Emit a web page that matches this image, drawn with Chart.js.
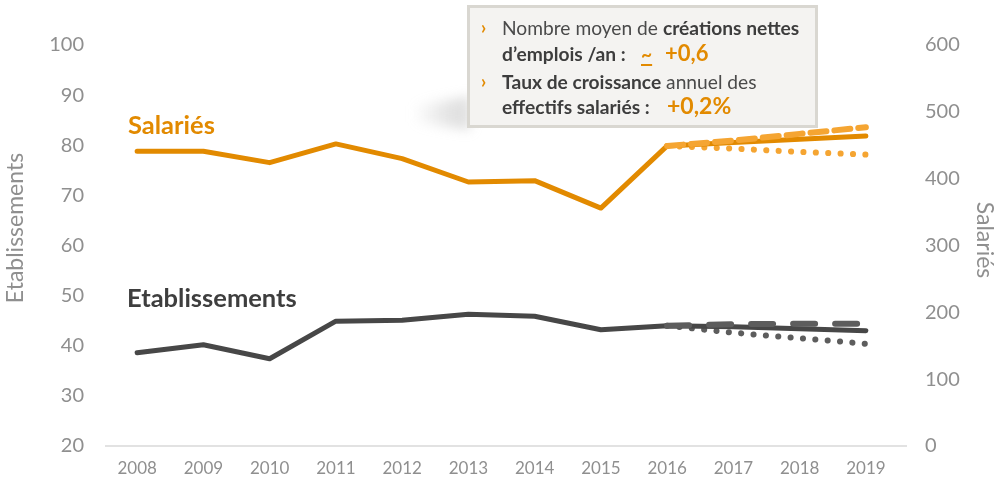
<!DOCTYPE html>
<html>
<head>
<meta charset="utf-8">
<script src="https://cdn.jsdelivr.net/npm/chart.js@4/dist/chart.umd.min.js"></script>
<style>
  html, body { margin: 0; padding: 0; background: #ffffff; }
</style>
</head>
<body>
<canvas id="c" width="996" height="479"></canvas>
<script>
// Years on the horizontal axis
const years = ['2008', '2009', '2010', '2011', '2012', '2013', '2014', '2015', '2016', '2017', '2018', '2019'];

// Salariés (right axis): observed + central projection, then high / low scenarios
const salaries      = [441, 441, 424, 452, 430, 395, 397, 356, 449, 454, 459, 464];
const salariesHaut  = [null, null, null, null, null, null, null, null, 449, 457, 467, 477];
const salariesBas   = [null, null, null, null, null, null, null, null, 449, 445, 440, 436];

// Etablissements (left axis)
const etab      = [38.6, 40.2, 37.4, 44.9, 45.1, 46.3, 45.9, 43.2, 44.0, 43.8, 43.4, 43.0];
const etabHaut  = [null, null, null, null, null, null, null, null, 44.0, 44.3, 44.4, 44.4];
const etabBas   = [null, null, null, null, null, null, null, null, 44.0, 42.6, 41.5, 40.4];

// Axis ranges
const leftRange  = { min: 20, max: 100, step: 10 };
const rightRange = { min: 0, max: 600, step: 100 };

const ORANGE = '#E28A00';
const ORANGE_LIGHT = '#F5A532';
const DARK = '#474747';
const DARK_LIGHT = '#5d5d5d';
const TICK_GREY = '#8f8f8f';
const FONT = 'Lato, "Open Sans", sans-serif';

function lineSet(label, data, axis, color, width, dash, order) {
  return {
    label, data, yAxisID: axis,
    borderColor: color, backgroundColor: color,
    borderWidth: width, borderDash: dash || [],
    borderCapStyle: 'round', borderJoinStyle: 'round',
    pointRadius: 0, pointHoverRadius: 0,
    tension: 0, spanGaps: false, fill: false, order
  };
}

// Mixed-style text run helper
function drawRuns(ctx, x, y, runs) {
  let cx = x;
  for (const r of runs) {
    if (r.x !== undefined) cx = r.x;
    ctx.font = r.font;
    ctx.fillStyle = r.color;
    ctx.fillText(r.t, cx, y);
    const w = ctx.measureText(r.t).width;
    if (r.underline) {
      ctx.fillRect(cx, y + 3, w, 2);
    }
    cx += w;
  }
}

// fixed side width for a vertical axis, without extra vertical label padding
function fixedSide(width) {
  return function (s) {
    s.width = width;
    s.paddingTop = 0;
    s.paddingBottom = 0;
  };
}

const decor = {
  id: 'decor',
  afterDatasetsDraw(chart) {
    const ctx = chart.ctx;
    const area = chart.chartArea;
    const yL = chart.scales.y;
    ctx.save();

    // horizontal base line
    const by = yL.getPixelForValue(leftRange.min);
    ctx.strokeStyle = '#e2e2e2';
    ctx.lineWidth = 2;
    ctx.beginPath();
    ctx.moveTo(area.left + 1, by);
    ctx.lineTo(area.right + 8, by);
    ctx.stroke();

    // axis titles
    ctx.fillStyle = TICK_GREY;
    ctx.font = '23px ' + FONT;
    ctx.textAlign = 'center';
    ctx.textBaseline = 'middle';
    ctx.save();
    ctx.translate(16, 228);
    ctx.rotate(-Math.PI / 2);
    ctx.fillText('Etablissements', 0, 0);
    ctx.restore();
    ctx.save();
    ctx.translate(984, 240);
    ctx.rotate(Math.PI / 2);
    ctx.fillText('Salariés', 0, 0);
    ctx.restore();

    // series names
    ctx.textAlign = 'left';
    ctx.textBaseline = 'alphabetic';
    ctx.font = 'bold 25.5px ' + FONT;
    ctx.fillStyle = ORANGE;
    ctx.fillText('Salariés', 128, 134);
    ctx.fillStyle = '#3e3e3e';
    ctx.fillText('Etablissements', 127, 307);

    // info box: soft shadow on the left
    ctx.save();
    ctx.filter = 'blur(6px)';
    const g = ctx.createLinearGradient(412, 0, 470, 0);
    g.addColorStop(0, 'rgba(170,170,170,0)');
    g.addColorStop(0.6, 'rgba(170,170,170,0.3)');
    g.addColorStop(1, 'rgba(170,170,170,0.4)');
    ctx.fillStyle = g;
    ctx.beginPath();
    ctx.moveTo(470, 96);
    ctx.lineTo(470, 130);
    ctx.lineTo(414, 122);
    ctx.lineTo(414, 106);
    ctx.closePath();
    ctx.fill();
    ctx.restore();

    // info box
    ctx.fillStyle = '#f4f3f1';
    ctx.fillRect(467, 5, 351, 123);
    ctx.strokeStyle = '#d9d7d1';
    ctx.lineWidth = 3;
    ctx.strokeRect(468.5, 6.5, 348, 120);

    const sz = 19.2;
    const reg = sz + 'px ' + FONT;
    const bold = 'bold ' + sz + 'px ' + FONT;
    const txt = '#4a4a4a';
    const txtB = '#3d3d3d';

    ctx.fillStyle = ORANGE;
    ctx.font = 'bold 18px ' + FONT;
    ctx.fillText('›', 481, 34);
    ctx.fillText('›', 481, 88);

    drawRuns(ctx, 502, 35, [
      { t: 'Nombre moyen de ', font: reg, color: txt },
      { t: 'créations nettes', font: bold, color: txtB }
    ]);
    drawRuns(ctx, 502, 61, [
      { t: 'd’emplois /an : ', font: bold, color: txtB },
      { t: '~', font: bold, color: ORANGE, underline: true, x: 641 },
      { t: '+0,6', font: 'bold 22px ' + FONT, color: ORANGE, x: 665 }
    ]);
    drawRuns(ctx, 502, 89, [
      { t: 'Taux de croissance', font: bold, color: txtB },
      { t: ' annuel des', font: reg, color: txt }
    ]);
    drawRuns(ctx, 502, 114, [
      { t: 'effectifs salariés :', font: bold, color: txtB },
      { t: '+0,2%', font: 'bold 23px ' + FONT, color: ORANGE, x: 667 }
    ]);

    ctx.restore();
  }
};

new Chart(document.getElementById('c'), {
  type: 'line',
  data: {
    labels: years,
    datasets: [
      lineSet('Salariés', salaries, 'y1', ORANGE, 5, [], 2),
      lineSet('Salariés haut', salariesHaut, 'y1', ORANGE_LIGHT, 6, [16, 8], 1),
      lineSet('Salariés bas', salariesBas, 'y1', ORANGE_LIGHT, 6, [0.1, 12.3], 3),
      lineSet('Etablissements', etab, 'y', DARK, 5, [], 2),
      lineSet('Etablissements haut', etabHaut, 'y', DARK_LIGHT, 6, [22, 20], 1),
      lineSet('Etablissements bas', etabBas, 'y', DARK_LIGHT, 6, [0.1, 12.3], 3)
    ]
  },
  options: {
    responsive: false,
    animation: false,
    events: [],
    layout: { padding: { top: 45, left: 0, right: 0, bottom: 0 } },
    plugins: { legend: { display: false }, tooltip: { enabled: false } },
    scales: {
      x: {
        offset: true,
        grid: { display: false, drawTicks: false },
        border: { display: false },
        ticks: { color: TICK_GREY, font: { family: FONT, size: 17 }, padding: 12, maxRotation: 0 },
        afterFit(s) { s.height = 33; }
      },
      y: {
        position: 'left',
        min: leftRange.min, max: leftRange.max,
        grid: { display: false, drawTicks: false },
        border: { display: false },
        ticks: { stepSize: leftRange.step, color: TICK_GREY, font: { family: FONT, size: 20 }, padding: 20 },
        afterFit: fixedSide(104)
      },
      y1: {
        position: 'right',
        min: rightRange.min, max: rightRange.max,
        grid: { display: false, drawTicks: false },
        border: { display: false },
        ticks: { stepSize: rightRange.step, color: TICK_GREY, font: { family: FONT, size: 20 }, padding: 26 },
        afterFit: fixedSide(97)
      }
    }
  },
  plugins: [decor]
});
</script>
</body>
</html>
